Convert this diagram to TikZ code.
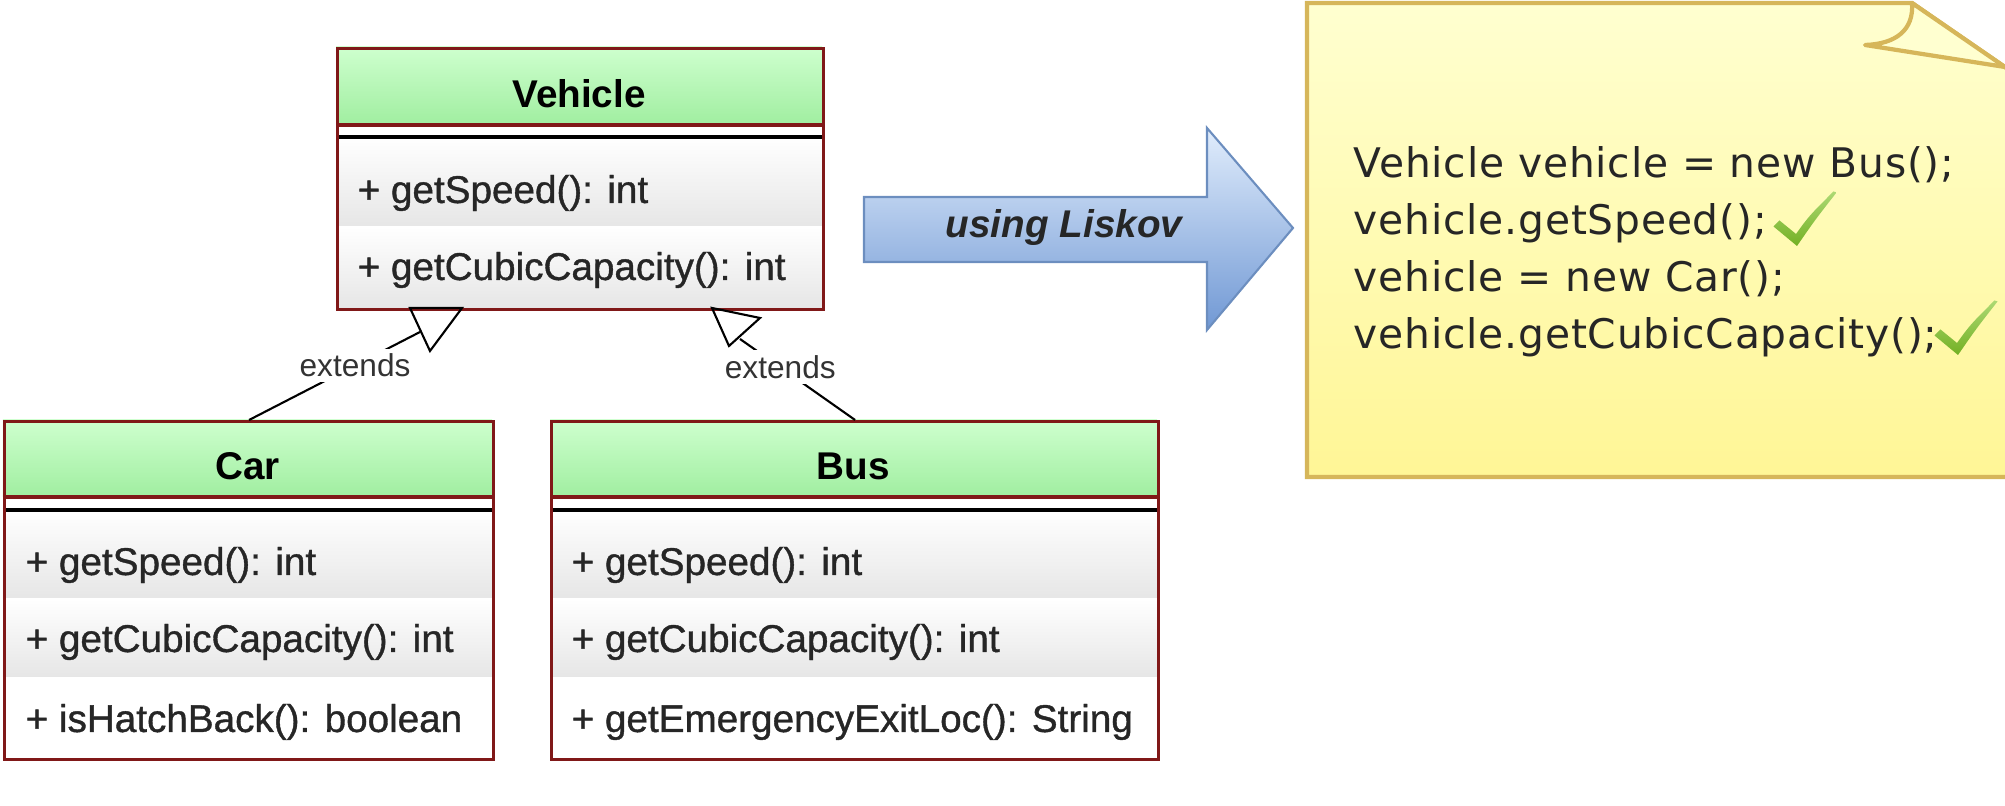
\documentclass[tikz,border=0pt]{standalone}
\usepackage{fontspec}
\setmainfont{Liberation Sans}
\newfontfamily\memberfont[FakeBold=1]{Liberation Sans}
\newfontfamily\notefont[LetterSpace=2]{DejaVu Sans}
\usepackage{tikz}

\definecolor{umlred}{RGB}{128,24,24}
\definecolor{headtop}{RGB}{206,255,206}
\definecolor{headbot}{RGB}{160,238,160}
\definecolor{rowgray}{RGB}{230,230,230}
\definecolor{notetop}{RGB}{255,255,208}
\definecolor{notebot}{RGB}{255,246,150}
\definecolor{noteline}{RGB}{214,182,90}
\definecolor{arrtop}{RGB}{225,237,252}
\definecolor{arrbot}{RGB}{112,152,212}
\definecolor{arrline}{RGB}{108,142,191}
\definecolor{okgreen}{RGB}{128,196,40}

\tikzset{
  frame/.style={draw=umlred, line width=0.9pt, inner sep=0pt, anchor=north west},
  headfill/.style={top color=headtop, bottom color=headbot},
  rowfill/.style={top color=white, bottom color=rowgray},
  title/.style={font=\fontsize{11}{13}\selectfont\bfseries, anchor=base, inner sep=0pt},
  member/.style={font=\memberfont\fontsize{11}{13}\selectfont, text=black!85, anchor=base west, inner sep=0pt},
  conn/.style={draw=black, line width=0.6pt},
  extlabel/.style={font=\fontsize{9}{11}\selectfont, text=black!80, fill=white, inner sep=1.5pt},
  code/.style={font=\notefont\fontsize{11.6}{13}\selectfont, text=black!85, anchor=base west, inner sep=0pt},
  okmark/.pic={
    \shade[top color=okgreen!65!white, bottom color=okgreen!90!black]
      (0,-0.02) -- (-0.235,0.175) -- (-0.175,0.235) -- (-0.01,0.10)
      .. controls (0.12,0.28) .. (0.365,0.525) -- (0.395,0.515)
      .. controls (0.18,0.24) .. (0,-0.02) -- cycle;
  },
}

\begin{document}
\begin{tikzpicture}
  \useasboundingbox (0,0) rectangle (20.05,8.06);

  % Vehicle class
  \shade[headfill] (3.36,7.59) rectangle (8.22,6.81);
  \shade[rowfill] (3.36,6.69) rectangle (8.22,5.79);
  \shade[rowfill] (3.36,5.79) rectangle (8.22,4.98);
  \draw[draw=umlred, line width=0.9pt] (3.36,6.81) -- (8.22,6.81);
  \draw[line width=0.9pt] (3.36,6.69) -- (8.22,6.69);
  \node[frame, minimum width=4.86cm, minimum height=2.61cm] (vehicle) at (3.36,7.59) {};
  \node[title] at (5.79,6.98) {Vehicle};
  \node[member] at (3.57,6.03) {+ getSpeed(): int};
  \node[member] at (3.57,5.26) {+ getCubicCapacity(): int};

  % Car class
  \shade[headfill] (0.03,3.86) rectangle (4.92,3.09);
  \shade[rowfill] (0.03,2.96) rectangle (4.92,2.07);
  \shade[rowfill] (0.03,2.07) rectangle (4.92,1.29);
  \draw[draw=umlred, line width=0.9pt] (0.03,3.09) -- (4.92,3.09);
  \draw[line width=0.9pt] (0.03,2.96) -- (4.92,2.96);
  \node[frame, minimum width=4.89cm, minimum height=3.38cm] (car) at (0.03,3.86) {};
  \node[title] at (2.475,3.26) {Car};
  \node[member] at (0.25,2.31) {+ getSpeed(): int};
  \node[member] at (0.25,1.54) {+ getCubicCapacity(): int};
  \node[member] at (0.25,0.74) {+ isHatchBack(): boolean};

  % Bus class
  \shade[headfill] (5.50,3.86) rectangle (11.57,3.09);
  \shade[rowfill] (5.50,2.96) rectangle (11.57,2.07);
  \shade[rowfill] (5.50,2.07) rectangle (11.57,1.29);
  \draw[draw=umlred, line width=0.9pt] (5.50,3.09) -- (11.57,3.09);
  \draw[line width=0.9pt] (5.50,2.96) -- (11.57,2.96);
  \node[frame, minimum width=6.07cm, minimum height=3.38cm] (bus) at (5.50,3.86) {};
  \node[title] at (8.535,3.26) {Bus};
  \node[member] at (5.71,2.31) {+ getSpeed(): int};
  \node[member] at (5.71,1.54) {+ getCubicCapacity(): int};
  \node[member] at (5.71,0.74) {+ getEmergencyExitLoc(): String};

  % Generalisations
  \coordinate (vleft) at (4.20,4.74);
  \coordinate (vright) at (7.40,4.67);
  \draw[conn] (car.north) -- node[extlabel, pos=0.62] (extcar) {extends} (vleft);
  \draw[conn] (bus.north) -- node[extlabel, pos=0.65] (extbus) {extends} (vright);
  \draw[conn] (4.10,4.98) -- (4.62,4.98) -- (4.30,4.55) -- cycle;
  \draw[conn] (7.12,4.98) -- (7.60,4.88) -- (7.29,4.60) -- cycle;

  % Block arrow
  \shadedraw[top color=arrtop, bottom color=arrbot, draw=arrline, line width=0.6pt]
    (8.64,6.09) -- (12.07,6.09) -- (12.07,6.78) -- (12.93,5.78)
    -- (12.07,4.76) -- (12.07,5.44) -- (8.64,5.44) -- cycle;
  \node[font=\fontsize{11}{13}\selectfont\bfseries\itshape, text=black!85] (liskov) at (10.64,5.78) {using Liskov};

  % Note with folded corner
  \shadedraw[top color=notetop, bottom color=notebot, draw=noteline, line width=1.2pt]
    (13.07,3.29) -- (13.07,8.03) -- (19.12,8.03) -- (20.12,7.34) -- (20.12,3.29) -- cycle;
  \filldraw[fill=notetop, draw=noteline, line width=1.2pt, line join=round]
    (19.12,8.03) .. controls (19.14,7.76) and (18.96,7.62) .. (18.65,7.61) -- (20.05,7.39) -- cycle;
  \node[code] (ln1) at (13.53,6.28) {Vehicle vehicle = new Bus();};
  \node[code] (ln2) at (13.53,5.71) {vehicle.getSpeed();};
  \node[code] (ln3) at (13.53,5.14) {vehicle = new Car();};
  \node[code] (ln4) at (13.53,4.57) {vehicle.getCubicCapacity();};
  \pic at (17.97,5.62) {okmark};
  \pic at (19.58,4.53) {okmark};
\end{tikzpicture}
\end{document}
